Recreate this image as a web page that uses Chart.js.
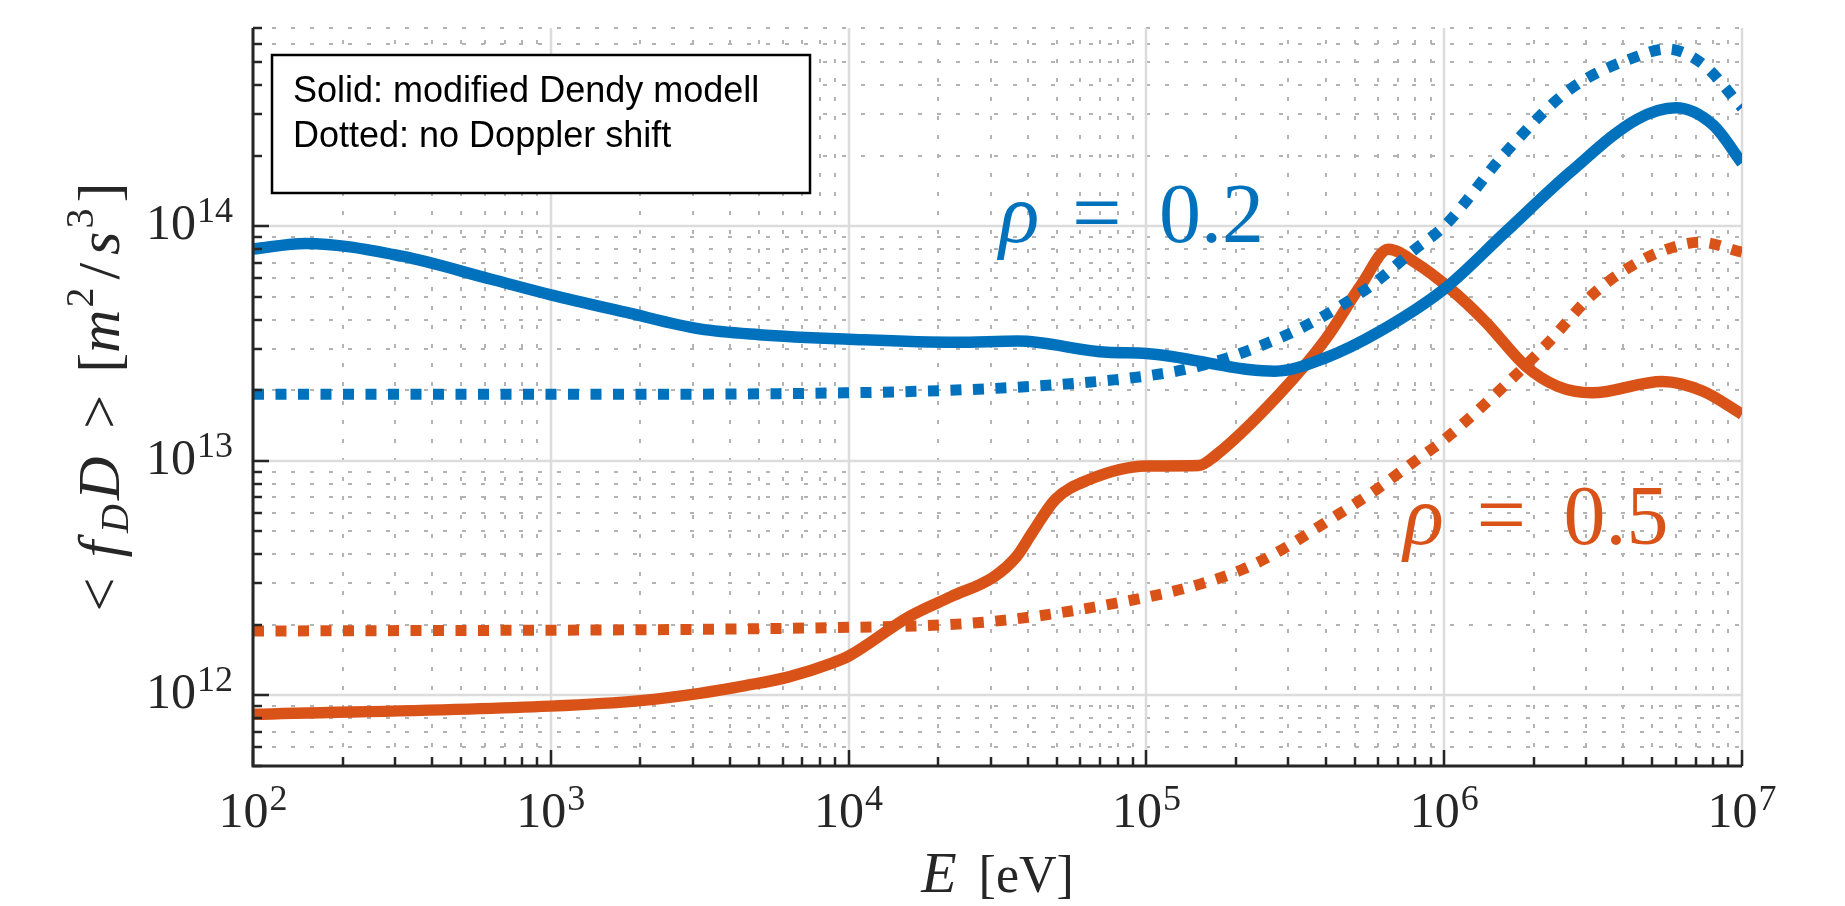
<!DOCTYPE html>
<html>
<head>
<meta charset="utf-8">
<title>Averaged diffusion coefficient vs energy</title>
<script src="https://cdn.jsdelivr.net/npm/chart.js@4.4.1/dist/chart.umd.min.js"></script>
<style>
  html, body { margin: 0; padding: 0; background: #fff; }
  canvas { display: block; }
</style>
</head>
<body>
<canvas id="fd-chart" width="1845" height="906"></canvas>
<script>
// rho = 0.2, modified Dendy model (solid)
const energyRho02Solid = [100, 150, 316, 631, 1000, 1780, 3160, 5000, 1e4, 2.3e4, 3.7e4, 7.4e4, 1e5, 2.2e5, 2.7e5, 4e5, 6e5, 1e6, 1.6e6, 2.65e6, 4.45e6, 6e6, 8e6, 1e7];
const fdRho02Solid = [8.0e13, 8.45e13, 7.45e13, 5.94e13, 5.1e13, 4.3e13, 3.65e13, 3.45e13, 3.3e13, 3.2e13, 3.24e13, 2.9e13, 2.87e13, 2.45e13, 2.41e13, 2.75e13, 3.53e13, 5.4e13, 9.4e13, 1.7e14, 2.86e14, 3.2e14, 2.7e14, 1.86e14];

// rho = 0.2, no Doppler shift (dotted)
const energyRho02Dotted = [100, 1e3, 1e4, 4.2e4, 1e5, 1.5e5, 2.4e5, 3.75e5, 5.7e5, 8e5, 1e6, 1.6e6, 2.65e6, 4.45e6, 5.6e6, 7.4e6, 1e7];
const fdRho02Dotted = [1.92e13, 1.92e13, 1.95e13, 2.08e13, 2.3e13, 2.53e13, 3.08e13, 4.0e13, 5.6e13, 8.0e13, 1.0e14, 2.05e14, 3.84e14, 5.3e14, 5.7e14, 4.9e14, 3.2e14];

// rho = 0.5, modified Dendy model (solid)
const energyRho05Solid = [100, 1e3, 2000, 3160, 4500, 6300, 8900, 1e4, 1.6e4, 2.2e4, 3.07e4, 3.66e4, 4.14e4, 4.95e4, 6.4e4, 1e5, 1.5e5, 1.7e5, 2.77e5, 4e5, 5.3e5, 6.5e5, 8e5, 1.05e6, 1.38e6, 1.88e6, 2.4e6, 3.14e6, 5.4e6, 7.4e6, 1e7];
const fdRho05Solid = [8.3e11, 9.0e11, 9.5e11, 1.02e12, 1.1e12, 1.2e12, 1.38e12, 1.47e12, 2.17e12, 2.63e12, 3.2e12, 3.9e12, 4.95e12, 6.85e12, 8.3e12, 9.5e12, 9.55e12, 1.05e13, 1.9e13, 3.3e13, 5.7e13, 7.98e13, 7.0e13, 5.4e13, 3.9e13, 2.53e13, 2.08e13, 1.95e13, 2.18e13, 1.98e13, 1.58e13];

// rho = 0.5, no Doppler shift (dotted)
const energyRho05Dotted = [100, 1e4, 3.07e4, 1e5, 1.5e5, 2.1e5, 2.87e5, 4e5, 5.7e5, 8e5, 1e6, 1.6e6, 2.24e6, 3.14e6, 4.45e6, 5.8e6, 7.2e6, 1e7];
const fdRho05Dotted = [1.88e12, 1.95e12, 2.07e12, 2.62e12, 2.97e12, 3.44e12, 4.2e12, 5.47e12, 7.3e12, 1.0e13, 1.23e13, 2.1e13, 3.2e13, 5.1e13, 7.0e13, 8.1e13, 8.55e13, 7.75e13];

// axis limits and decade labels (10^n)
const xRange = [1e2, 1e7];
const yRange = [5e11, 7e14];
const xTickExponents = [2, 3, 4, 5, 6, 7];
const yTickExponents = [12, 13, 14];

const legendLines = ['Solid: modified Dendy modell', 'Dotted: no Doppler shift'];
const curveLabels = [
    { rho: '0.2', energy: 3.2e4, value: 8.6e13, color: '#0072BD' },
    { rho: '0.5', energy: 7.3e5, value: 4.4e12, color: '#D95319' },
];

const BLUE = '#0072BD';
const ORANGE = '#D95319';
const AXIS_COLOR = '#262626';
const SERIF = '"Liberation Serif", "DejaVu Serif", serif';

function toPoints(xs, ys) {
    return xs.map((x, i) => ({ x: x, y: ys[i] }));
}

function lineDataset(label, xs, ys, color, dotted) {
    return {
        label: label,
        data: toPoints(xs, ys),
        borderColor: color,
        borderWidth: dotted ? 11 : 11.5,
        borderDash: dotted ? [11, 11.5] : [],
        borderCapStyle: 'butt',
        borderJoinStyle: 'round',
        pointRadius: 0,
        fill: false,
        cubicInterpolationMode: 'monotone',
        clip: 0,
    };
}

// 1..9 x 10^n values within [min, max]
function logTicks(min, max) {
    const major = [];
    const minor = [];
    for (let d = Math.floor(Math.log10(min)); d <= Math.ceil(Math.log10(max)); d++) {
        for (let m = 1; m <= 9; m++) {
            const v = m * Math.pow(10, d);
            if (v < min * 0.999 || v > max * 1.001) continue;
            (m === 1 ? major : minor).push(v);
        }
    }
    return { major, minor };
}

// draws a run of text pieces (font / offsets) starting at x
function drawRuns(ctx, runs, x, y, align) {
    let total = 0;
    runs.forEach(r => {
        ctx.font = r.font;
        r.w = ctx.measureText(r.t).width;
        total += r.w + (r.dx || 0);
    });
    let cx = align === 'center' ? x - total / 2 : align === 'right' ? x - total : x;
    ctx.textAlign = 'left';
    ctx.textBaseline = 'alphabetic';
    runs.forEach(r => {
        ctx.font = r.font;
        cx += r.dx || 0;
        ctx.fillText(r.t, cx, y + (r.dy || 0));
        cx += r.w;
    });
}

function powerLabel(exp) {
    return [
        { t: '10', font: '50px ' + SERIF },
        { t: String(exp), font: '36px ' + SERIF, dy: -17, dx: 1 },
    ];
}

const logGrid = {
    id: 'logGrid',
    beforeDatasetsDraw(chart) {
        const { ctx, chartArea: a, scales: { x, y } } = chart;
        const xt = logTicks(x.min, x.max);
        const yt = logTicks(y.min, y.max);
        ctx.save();

        // minor grid, dotted
        ctx.strokeStyle = '#b3b3b3';
        ctx.lineWidth = 2;
        ctx.setLineDash([4, 15]);
        xt.minor.forEach(v => {
            const px = Math.round(x.getPixelForValue(v));
            ctx.beginPath(); ctx.moveTo(px, a.bottom); ctx.lineTo(px, a.top); ctx.stroke();
        });
        yt.minor.forEach(v => {
            const py = Math.round(y.getPixelForValue(v));
            ctx.beginPath(); ctx.moveTo(a.left, py); ctx.lineTo(a.right, py); ctx.stroke();
        });

        // major grid, solid
        ctx.setLineDash([]);
        ctx.strokeStyle = '#dcdcdc';
        ctx.lineWidth = 2.5;
        xt.major.forEach(v => {
            const px = Math.round(x.getPixelForValue(v));
            ctx.beginPath(); ctx.moveTo(px, a.bottom); ctx.lineTo(px, a.top); ctx.stroke();
        });
        yt.major.forEach(v => {
            const py = Math.round(y.getPixelForValue(v));
            ctx.beginPath(); ctx.moveTo(a.left, py); ctx.lineTo(a.right, py); ctx.stroke();
        });
        ctx.restore();
    },
    afterDatasetsDraw(chart) {
        const { ctx, chartArea: a, scales: { x, y } } = chart;
        const xt = logTicks(x.min, x.max);
        const yt = logTicks(y.min, y.max);
        ctx.save();

        // axis lines with inward ticks
        ctx.strokeStyle = AXIS_COLOR;
        ctx.lineWidth = 3;
        ctx.beginPath();
        ctx.moveTo(a.left, a.top);
        ctx.lineTo(a.left, a.bottom);
        ctx.lineTo(a.right, a.bottom);
        ctx.stroke();

        ctx.lineWidth = 2.5;
        xt.major.concat(xt.minor).forEach(v => {
            const len = xt.major.includes(v) ? 16 : 9;
            const px = Math.round(x.getPixelForValue(v));
            ctx.beginPath(); ctx.moveTo(px, a.bottom); ctx.lineTo(px, a.bottom - len); ctx.stroke();
        });
        yt.major.concat(yt.minor).forEach(v => {
            const len = yt.major.includes(v) ? 16 : 9;
            const py = Math.round(y.getPixelForValue(v));
            ctx.beginPath(); ctx.moveTo(a.left, py); ctx.lineTo(a.left + len, py); ctx.stroke();
        });

        // decade tick labels
        ctx.fillStyle = AXIS_COLOR;
        xTickExponents.forEach(e => {
            drawRuns(ctx, powerLabel(e), x.getPixelForValue(Math.pow(10, e)), a.bottom + 61, 'center');
        });
        yTickExponents.forEach(e => {
            drawRuns(ctx, powerLabel(e), a.left - 20, y.getPixelForValue(Math.pow(10, e)) + 13, 'right');
        });

        // axis titles
        const big = '60px ' + SERIF;
        const bigIt = 'italic 60px ' + SERIF;
        const small = '40px ' + SERIF;
        const smallIt = 'italic 40px ' + SERIF;
        drawRuns(ctx, [
            { t: 'E', font: 'italic 58px ' + SERIF },
            { t: '[eV]', font: '52px ' + SERIF, dx: 22 },
        ], (a.left + a.right) / 2, 892, 'center');

        ctx.save();
        ctx.translate(119, (a.top + a.bottom) / 2);
        ctx.rotate(-Math.PI / 2);
        drawRuns(ctx, [
            { t: '<', font: big },
            { t: 'f', font: bigIt, dx: 20 },
            { t: 'D', font: smallIt, dy: 9, dx: 8 },
            { t: 'D', font: bigIt, dx: 4 },
            { t: '>', font: big, dx: 28 },
            { t: '[', font: big, dx: 22 },
            { t: 'm', font: bigIt },
            { t: '2', font: small, dy: -26, dx: 2 },
            { t: '/', font: big, dx: 8 },
            { t: 's', font: bigIt, dx: 8 },
            { t: '3', font: small, dy: -26, dx: 3 },
            { t: ']', font: big, dx: 6 },
        ], 0, 0, 'center');
        ctx.restore();

        // note box
        ctx.fillStyle = '#fff';
        ctx.fillRect(272, 55, 538, 138);
        ctx.strokeStyle = '#000';
        ctx.lineWidth = 2.5;
        ctx.strokeRect(272, 55, 538, 138);
        ctx.fillStyle = '#000';
        ctx.font = '36px "Liberation Sans", Arial, sans-serif';
        ctx.textAlign = 'left';
        ctx.textBaseline = 'alphabetic';
        legendLines.forEach((line, i) => ctx.fillText(line, 293, 102 + i * 45));

        // rho labels next to the curves
        curveLabels.forEach(c => {
            const px = x.getPixelForValue(c.energy);
            const py = y.getPixelForValue(c.value);
            ctx.fillStyle = c.color;
            ctx.font = 'italic 84px ' + SERIF;
            ctx.fillText('\u03C1', px, py);
            ctx.font = '88px ' + SERIF;
            ctx.fillText('=', px + 73, py);
            ctx.font = '84px ' + SERIF;
            ctx.fillText(c.rho, px + 160, py);
        });
        ctx.restore();
    },
};

(function () {
    const ctx = document.getElementById('fd-chart').getContext('2d');
    new Chart(ctx, {
        type: 'line',
        data: {
            datasets: [
                lineDataset('rho 0.2 solid', energyRho02Solid, fdRho02Solid, BLUE, false),
                lineDataset('rho 0.2 dotted', energyRho02Dotted, fdRho02Dotted, BLUE, true),
                lineDataset('rho 0.5 solid', energyRho05Solid, fdRho05Solid, ORANGE, false),
                lineDataset('rho 0.5 dotted', energyRho05Dotted, fdRho05Dotted, ORANGE, true),
            ],
        },
        options: {
            responsive: false,
            animation: false,
            devicePixelRatio: 1,
            layout: {
                padding: { left: 253, right: 103, top: 28, bottom: 140 },
            },
            plugins: {
                legend: { display: false },
                tooltip: { enabled: false },
            },
            scales: {
                x: { type: 'logarithmic', min: xRange[0], max: xRange[1], display: false },
                y: { type: 'logarithmic', min: yRange[0], max: yRange[1], display: false },
            },
        },
        plugins: [logGrid],
    });
})();
</script>
</body>
</html>
